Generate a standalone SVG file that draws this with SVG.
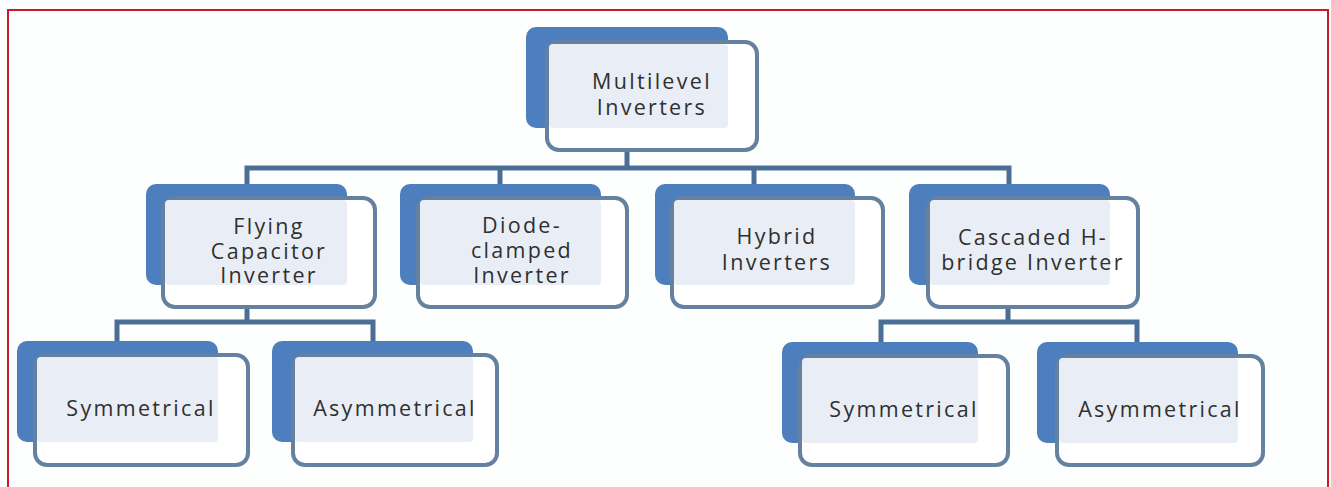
<svg xmlns="http://www.w3.org/2000/svg" width="1331" height="487" viewBox="0 0 1331 487">
<style>
.back{fill:#4d7ebd;}
.front{fill:#ffffff;stroke:#64819f;stroke-width:4;}
.light{fill:#e9eef6;}
.lbl{font-family:"Open Sans","Liberation Sans",sans-serif;font-size:21.5px;letter-spacing:2.3px;fill:#303030;text-anchor:middle;}
.conn{fill:none;stroke:#4a6e95;stroke-width:5;}
.frame{fill:none;stroke:#cc1a2a;stroke-width:2;}
</style>
<rect width="1331" height="487" fill="#fdfefe"/>
<path class="frame" d="M8,487 V10 H1328 V487"/>
<g id="connectors">
<path class="conn" d="M627,150 V168 M247,184 V168 H1009 V184 M500,168 V184 M754,168 V184"/>
<path class="conn" d="M247,307 V322 M117,341 V322 H373 V341"/>
<path class="conn" d="M1008,307 V322 M881,342 V322 H1137 V342"/>
</g>
<g id="n-multilevel">
<rect class="back" x="526" y="27" width="202" height="101" rx="10"/>
<rect class="front" x="547" y="42" width="210" height="108" rx="12"/>
<rect class="light" x="549" y="44" width="179" height="84" rx="4"/>
<text class="lbl" x="652" y="89">Multilevel</text>
<text class="lbl" x="652" y="115">Inverters</text>
</g>
<g id="n-flying">
<rect class="back" x="146" y="184" width="201" height="101" rx="10"/>
<rect class="front" x="163" y="198" width="212" height="109" rx="12"/>
<rect class="light" x="165" y="200" width="182" height="85" rx="4"/>
<text class="lbl" x="269" y="234">Flying</text>
<text class="lbl" x="269" y="259">Capacitor</text>
<text class="lbl" x="269" y="283">Inverter</text>
</g>
<g id="n-diode">
<rect class="back" x="400" y="184" width="201" height="101" rx="10"/>
<rect class="front" x="418" y="198" width="209" height="109" rx="12"/>
<rect class="light" x="420" y="200" width="181" height="85" rx="4"/>
<text class="lbl" x="522" y="233">Diode-</text>
<text class="lbl" x="522" y="258">clamped</text>
<text class="lbl" x="522" y="283">Inverter</text>
</g>
<g id="n-hybrid">
<rect class="back" x="655" y="184" width="200" height="101" rx="10"/>
<rect class="front" x="672" y="198" width="211" height="109" rx="12"/>
<rect class="light" x="674" y="200" width="181" height="85" rx="4"/>
<text class="lbl" x="777" y="244">Hybrid</text>
<text class="lbl" x="777" y="270">Inverters</text>
</g>
<g id="n-cascaded">
<rect class="back" x="909" y="184" width="201" height="101" rx="10"/>
<rect class="front" x="928" y="198" width="210" height="109" rx="12"/>
<rect class="light" x="930" y="200" width="180" height="85" rx="4"/>
<text class="lbl" x="1033" y="245">Cascaded H-</text>
<text class="lbl" x="1033" y="270">bridge Inverter</text>
</g>
<g id="n-sym-left">
<rect class="back" x="17" y="341" width="201" height="101" rx="10"/>
<rect class="front" x="35" y="355" width="213" height="110" rx="12"/>
<rect class="light" x="37" y="357" width="181" height="85" rx="4"/>
<text class="lbl" x="141" y="416">Symmetrical</text>
</g>
<g id="n-asym-left">
<rect class="back" x="272" y="341" width="201" height="101" rx="10"/>
<rect class="front" x="293" y="355" width="204" height="110" rx="12"/>
<rect class="light" x="295" y="357" width="178" height="85" rx="4"/>
<text class="lbl" x="395" y="416">Asymmetrical</text>
</g>
<g id="n-sym-right">
<rect class="back" x="782" y="342" width="196" height="101" rx="10"/>
<rect class="front" x="800" y="356" width="208" height="109" rx="12"/>
<rect class="light" x="802" y="358" width="176" height="85" rx="4"/>
<text class="lbl" x="904" y="417">Symmetrical</text>
</g>
<g id="n-asym-right">
<rect class="back" x="1037" y="342" width="201" height="101" rx="10"/>
<rect class="front" x="1057" y="356" width="206" height="109" rx="12"/>
<rect class="light" x="1059" y="358" width="179" height="85" rx="4"/>
<text class="lbl" x="1160" y="417">Asymmetrical</text>
</g>
</svg>
